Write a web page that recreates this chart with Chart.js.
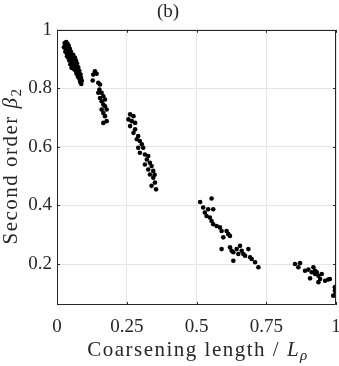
<!DOCTYPE html>
<html>
<head>
<meta charset="utf-8">
<script src="https://cdn.jsdelivr.net/npm/chart.js@4.4.1/dist/chart.umd.min.js"></script>
<style>
html,body{margin:0;padding:0;background:#fff;}
#wrap{width:339px;height:366px;position:relative;}
</style>
</head>
<body>
<div id="wrap"><canvas id="c" width="339" height="366"></canvas></div>
<script>
// Tick labels
const xTicks = [0, 0.25, 0.5, 0.75, 1];
const xTickLabels = ["0", "0.25", "0.5", "0.75", "1"];
const yTicks = [0.2, 0.4, 0.6, 0.8, 1];
const yTickLabels = ["0.2", "0.4", "0.6", "0.8", "1"];

// Coarsening length / L_rho (x) and second order beta_2 (y)
const xValues = [
  // group 1
  0.027,0.033,0.038,0.030,0.036,0.042,0.032,0.040,0.046,0.035,0.043,0.050,0.040,0.047,0.053,0.044,0.051,0.057,0.048,0.055,0.060,0.052,0.058,0.064,
  0.058,0.064,0.062,0.068,0.066,0.072,0.070,0.076,0.068,0.074,0.080,0.078,0.084,0.080,0.086,0.083,0.089,0.087,
  0.025,0.030,0.045,0.050,0.056,0.061,0.036,0.070,0.075,0.082,
  // group 2
  0.136,0.130,0.142,0.128,0.148,0.154,0.152,0.148,0.160,0.166,0.154,0.172,0.160,0.166,0.172,0.160,0.166,0.178,0.172,0.178,0.166,
  // group 3
  0.262,0.274,0.256,0.268,0.280,0.262,0.280,0.274,0.291,0.286,0.297,0.304,0.291,0.309,0.297,0.315,0.327,0.322,0.333,0.315,0.339,0.327,0.345,0.333,0.345,0.351,0.339,0.355,0.350,
  // group 4
  0.513,0.554,0.524,0.542,0.560,0.530,0.536,0.548,0.554,0.560,0.572,0.584,0.590,0.608,0.614,0.620,0.596,0.590,0.626,0.632,0.644,0.656,0.662,0.668,0.686,0.674,0.692,0.698,0.710,0.722,0.632,0.620,0.650,
  // group 5
  0.853,0.871,0.865,0.889,0.901,0.919,0.925,0.931,0.907,0.937,0.943,0.925,0.949,0.937,0.961,0.972,0.978,0.996,0.996,0.990,0.913,1.0,1.0
];
const yValues = [
  // group 1
  0.955,0.958,0.952,0.945,0.940,0.945,0.932,0.930,0.935,0.920,0.918,0.925,0.905,0.908,0.912,0.895,0.895,0.900,0.882,0.884,0.888,0.870,0.872,0.878,
  0.915,0.905,0.892,0.895,0.880,0.885,0.868,0.872,0.858,0.855,0.860,0.845,0.848,0.833,0.836,0.822,0.826,0.815,
  0.940,0.925,0.922,0.905,0.895,0.865,0.910,0.850,0.840,0.845,
  // group 2
  0.858,0.847,0.850,0.827,0.819,0.813,0.796,0.785,0.785,0.773,0.767,0.762,0.756,0.745,0.739,0.728,0.716,0.728,0.705,0.688,0.682,
  // group 3
  0.711,0.705,0.694,0.688,0.682,0.671,0.660,0.648,0.637,0.626,0.620,0.609,0.597,0.597,0.580,0.574,0.569,0.557,0.546,0.540,0.535,0.523,0.518,0.506,0.495,0.478,0.467,0.455,0.505,
  // group 4
  0.412,0.424,0.393,0.387,0.387,0.376,0.364,0.359,0.347,0.336,0.330,0.325,0.313,0.313,0.302,0.296,0.291,0.251,0.245,0.240,0.251,0.262,0.245,0.234,0.251,0.228,0.223,0.217,0.206,0.189,0.211,0.257,0.234,
  // group 5
  0.200,0.203,0.189,0.177,0.181,0.189,0.177,0.172,0.151,0.160,0.149,0.166,0.166,0.138,0.143,0.147,0.149,0.121,0.109,0.092,0.172,0.115,0.100
];

const points = xValues.map((x, i) => ({x: x, y: yValues[i]}));
const FONT = "'Liberation Serif', 'Times New Roman', serif";
const AXIS = '#262626';

const boxPlugin = {
  id: 'boxAndTitles',
  afterDraw(chart) {
    const ctx = chart.ctx;
    const a = chart.chartArea;
    const xs = chart.scales.x, ys = chart.scales.y;
    ctx.save();
    ctx.strokeStyle = AXIS;
    ctx.lineWidth = 1;
    ctx.beginPath();
    ctx.rect(Math.round(a.left) + 0.5, Math.round(a.top) + 0.5, Math.round(a.right - a.left) - 1, Math.round(a.bottom - a.top) - 1);
    ctx.stroke();
    // inward ticks
    const tl = 3;
    ctx.beginPath();
    xTicks.forEach(v => {
      const px = Math.round(xs.getPixelForValue(v)) + 0.5;
      ctx.moveTo(px, a.bottom); ctx.lineTo(px, a.bottom - tl);
      ctx.moveTo(px, a.top); ctx.lineTo(px, a.top + tl);
    });
    yTicks.forEach(v => {
      const py = Math.round(ys.getPixelForValue(v)) + 0.5;
      ctx.moveTo(a.left, py); ctx.lineTo(a.left + tl, py);
      ctx.moveTo(a.right, py); ctx.lineTo(a.right - tl, py);
    });
    ctx.stroke();

    ctx.fillStyle = AXIS;
    ctx.textBaseline = 'alphabetic';
    ctx.textAlign = 'left';
    const fs = 21;
    const ls = 1.5;
    ctx.letterSpacing = ls + 'px';
    // x title: Coarsening length / L_rho
    const p1 = 'Coarsening length / ';
    ctx.font = fs + 'px ' + FONT;
    const w1 = ctx.measureText(p1).width;
    ctx.font = 'italic ' + fs + 'px ' + FONT;
    const w2 = ctx.measureText('L').width;
    ctx.font = 'italic ' + Math.round(fs * 0.7) + 'px ' + FONT;
    const w3 = ctx.measureText('ρ').width;
    const tot = w1 + w2 + w3;
    let x0 = 198 - tot / 2;
    const yb = 356;
    ctx.font = fs + 'px ' + FONT;
    ctx.fillText(p1, x0, yb);
    ctx.font = 'italic ' + fs + 'px ' + FONT;
    ctx.fillText('L', x0 + w1, yb);
    ctx.font = 'italic ' + Math.round(fs * 0.7) + 'px ' + FONT;
    ctx.fillText('ρ', x0 + w1 + w2, yb + 4);

    // y title: Second order beta_2
    ctx.save();
    ctx.translate(17, 166);
    ctx.rotate(-Math.PI / 2);
    const q1 = 'Second order ';
    ctx.font = fs + 'px ' + FONT;
    const v1 = ctx.measureText(q1).width;
    ctx.font = 'italic ' + fs + 'px ' + FONT;
    const v2 = ctx.measureText('β').width;
    ctx.font = Math.round(fs * 0.7) + 'px ' + FONT;
    const v3 = ctx.measureText('2').width;
    const vt = v1 + v2 + v3;
    let s0 = -vt / 2;
    ctx.font = fs + 'px ' + FONT;
    ctx.fillText(q1, s0, 0);
    ctx.font = 'italic ' + fs + 'px ' + FONT;
    ctx.fillText('β', s0 + v1, 0);
    ctx.font = Math.round(fs * 0.7) + 'px ' + FONT;
    ctx.fillText('2', s0 + v1 + v2, 4);
    ctx.restore();
    ctx.letterSpacing = '0px';
    ctx.restore();
  }
};

new Chart(document.getElementById('c'), {
  type: 'scatter',
  data: {
    datasets: [{
      data: points,
      backgroundColor: '#000',
      borderWidth: 0,
      pointRadius: 2.3,
      pointHoverRadius: 2.3
    }]
  },
  options: {
    responsive: false,
    animation: false,
    events: [],
    layout: {padding: {top: 0, right: 3, left: 0, bottom: 0}},
    plugins: {
      legend: {display: false},
      tooltip: {enabled: false},
      title: {
        display: true,
        text: '(b)',
        color: AXIS,
        font: {family: FONT, size: 19, weight: 'normal'},
        padding: {top: 1, bottom: 6}
      }
    },
    scales: {
      x: {
        type: 'linear',
        min: 0, max: 1,
        afterFit: s => { s.height = 61; s.paddingLeft = 0; s.paddingRight = 0; },
        afterBuildTicks: s => { s.ticks = xTicks.map(v => ({value: v})); },
        ticks: {
          color: AXIS,
          font: {family: FONT, size: 19},
          padding: 11,
          maxRotation: 0,
          callback: (v) => { const i = xTicks.indexOf(v); return i >= 0 ? xTickLabels[i] : ''; }
        },
        grid: {color: '#e6e6e6', drawTicks: false},
        border: {display: false}
      },
      y: {
        type: 'linear',
        min: 0.06, max: 1,
        afterFit: s => { s.width = 57; s.paddingTop = 0; s.paddingBottom = 0; },
        afterBuildTicks: s => { s.ticks = yTicks.map(v => ({value: v})); },
        ticks: {
          color: AXIS,
          font: {family: FONT, size: 19},
          padding: 5,
          callback: (v) => { const i = yTicks.findIndex(t => Math.abs(t - v) < 1e-9); return i >= 0 ? yTickLabels[i] : ''; }
        },
        grid: {color: '#e6e6e6', drawTicks: false},
        border: {display: false}
      }
    }
  },
  plugins: [boxPlugin]
});
</script>
</body>
</html>
